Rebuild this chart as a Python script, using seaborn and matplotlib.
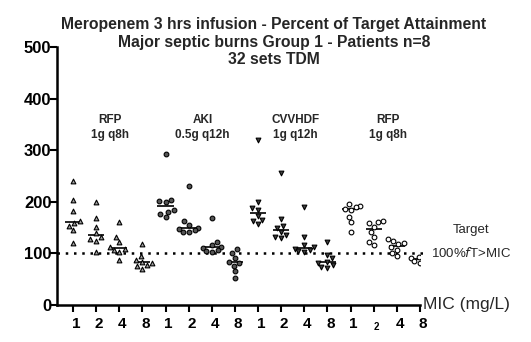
import matplotlib
matplotlib.use("Agg")
import matplotlib.pyplot as plt
import matplotlib.transforms as mtransforms
import seaborn as sns
import pandas as pd

# ---- data (percent of target attainment) ----
mic_levels = ["1", "2", "4", "8"]
group_names = ["RFP", "AKI", "CVVHDF", "RFP2"]
group_titles = ["RFP\n1g q8h", "AKI\n0.5g q12h", "CVVHDF\n1g q12h", "RFP\n1g q8h"]

rfp_q8h = [
    [240, 203, 182, 163, 158, 153, 145, 121],
    [199, 168, 151, 139, 132, 128, 125, 103],
    [160, 132, 123, 113, 108, 107, 103, 87],
    [118, 95, 87, 84, 81, 77, 76, 70],
]
aki_q12h = [
    [293, 203, 201, 199, 185, 181, 176, 171],
    [231, 163, 156, 150, 148, 145, 142, 142],
    [168, 123, 116, 113, 110, 107, 105, 103],
    [108, 101, 91, 84, 81, 76, 65, 52],
]
cvvhdf_q12h = [
    [320, 200, 188, 184, 172, 165, 163, 157],
    [255, 167, 153, 150, 142, 136, 132, 130],
    [189, 132, 116, 113, 108, 107, 104, 103],
    [123, 97, 91, 84, 81, 77, 74, 72],
]
rfp2_q8h = [
    [195, 192, 190, 187, 184, 171, 160, 142],
    [162, 160, 158, 152, 142, 132, 123, 116],
    [127, 125, 121, 118, 112, 107, 100, 94],
    [98, 95, 93, 91, 89, 87, 85, 82],
]
tick_labels = ["1", "2", "4", "8"] * 4
target_value = 100

all_groups = [rfp_q8h, aki_q12h, cvvhdf_q12h, rfp2_q8h]
rows = []
for g, gdata in zip(group_names, all_groups):
    for m, vals in zip(mic_levels, gdata):
        for v in vals:
            rows.append({"group": g, "cat": f"{g}|{m}", "value": v})
df = pd.DataFrame(rows)
order = [f"{g}|{m}" for g in group_names for m in mic_levels]

sns.set_style("ticks")
plt.rcParams["font.family"] = ["Liberation Sans", "DejaVu Sans"]

fig = plt.figure(figsize=(5.31, 3.42), dpi=100)
ax = fig.add_axes([57 / 531, 1 - 305 / 342, (420 - 57) / 531, (305 - 47) / 342])

styles = {
    "RFP": dict(marker="^", color="#a0a0a0"),
    "AKI": dict(marker="o", color="#555555"),
    "CVVHDF": dict(marker="v", color="#404040"),
    "RFP2": dict(marker="o", color="white"),
}
for g in group_names:
    sub = df[df["group"] == g]
    sns.swarmplot(data=sub, x="cat", y="value", order=order, ax=ax,
                  size=3.4, edgecolor="black", linewidth=0.8, **styles[g])

sns.boxplot(data=df, x="cat", y="value", order=order, ax=ax,
            showbox=False, showcaps=False, showfliers=False,
            whiskerprops={"visible": False},
            medianprops={"color": "black", "linewidth": 1.2},
            width=0.7)

# target dotted line
ax.axhline(target_value, color="black", linewidth=1.8,
           linestyle=(0, (1, 2.3)), xmin=0, xmax=1.02, clip_on=False, zorder=0)

ax.set_xlim(-0.69, 15)
ax.set_ylim(0, 500)
ax.set_yticks([0, 100, 200, 300, 400, 500])
ax.set_yticklabels(["0", "100", "200", "300", "400", "500"],
                   fontweight="bold", fontsize=12)
ax.set_xticks(range(16))
ax.set_xticklabels(tick_labels, fontweight="bold", fontsize=11)
ax.set_xlabel("")
ax.set_ylabel("")

ax.tick_params(axis="y", length=5, width=1.5, pad=-1, direction="out",
               color="black", labelcolor="black")
ax.tick_params(axis="x", length=5, width=1.5, pad=4, direction="out",
               color="black", labelcolor="black")
for s in ["top", "right"]:
    ax.spines[s].set_visible(False)
for s in ["left", "bottom"]:
    ax.spines[s].set_linewidth(1.8)
    ax.spines[s].set_color("black")

offset = mtransforms.ScaledTranslation(3 / 100, 0, fig.dpi_scale_trans)
for i, lab in enumerate(ax.get_xticklabels()):
    lab.set_transform(lab.get_transform() + offset)
    if i == 13:
        lab.set_fontsize(7)
        lab.set_transform(lab.get_transform() +
                          mtransforms.ScaledTranslation(0, -4 / 100, fig.dpi_scale_trans))

# group labels
cond = dict(fontsize=8.5, fontweight="bold", ha="center", va="center",
            linespacing=1.35)
for k, t in enumerate(group_titles):
    ax.text(1.7 + 4 * k - 0.1, 344, t, **cond)

ax.text(17.2, 145, "Target", fontsize=9.5, ha="center", va="center")
ax.text(17.2, 100, "100%$\\it{f}$T>MIC", fontsize=9.5, ha="center", va="center")

fig.text(423 / 531, 1 - 305 / 342, "MIC (mg/L)", fontsize=12.5, ha="left", va="center")
fig.text(274 / 531, 1 - 42 / 342,
         "Meropenem 3 hrs infusion - Percent of Target Attainment\n"
         "Major septic burns Group 1 - Patients n=8\n32 sets TDM",
         fontsize=11.3, fontweight="bold", ha="center", va="center", linespacing=1.2)

fig.savefig("out.png", dpi=100, facecolor="white")
